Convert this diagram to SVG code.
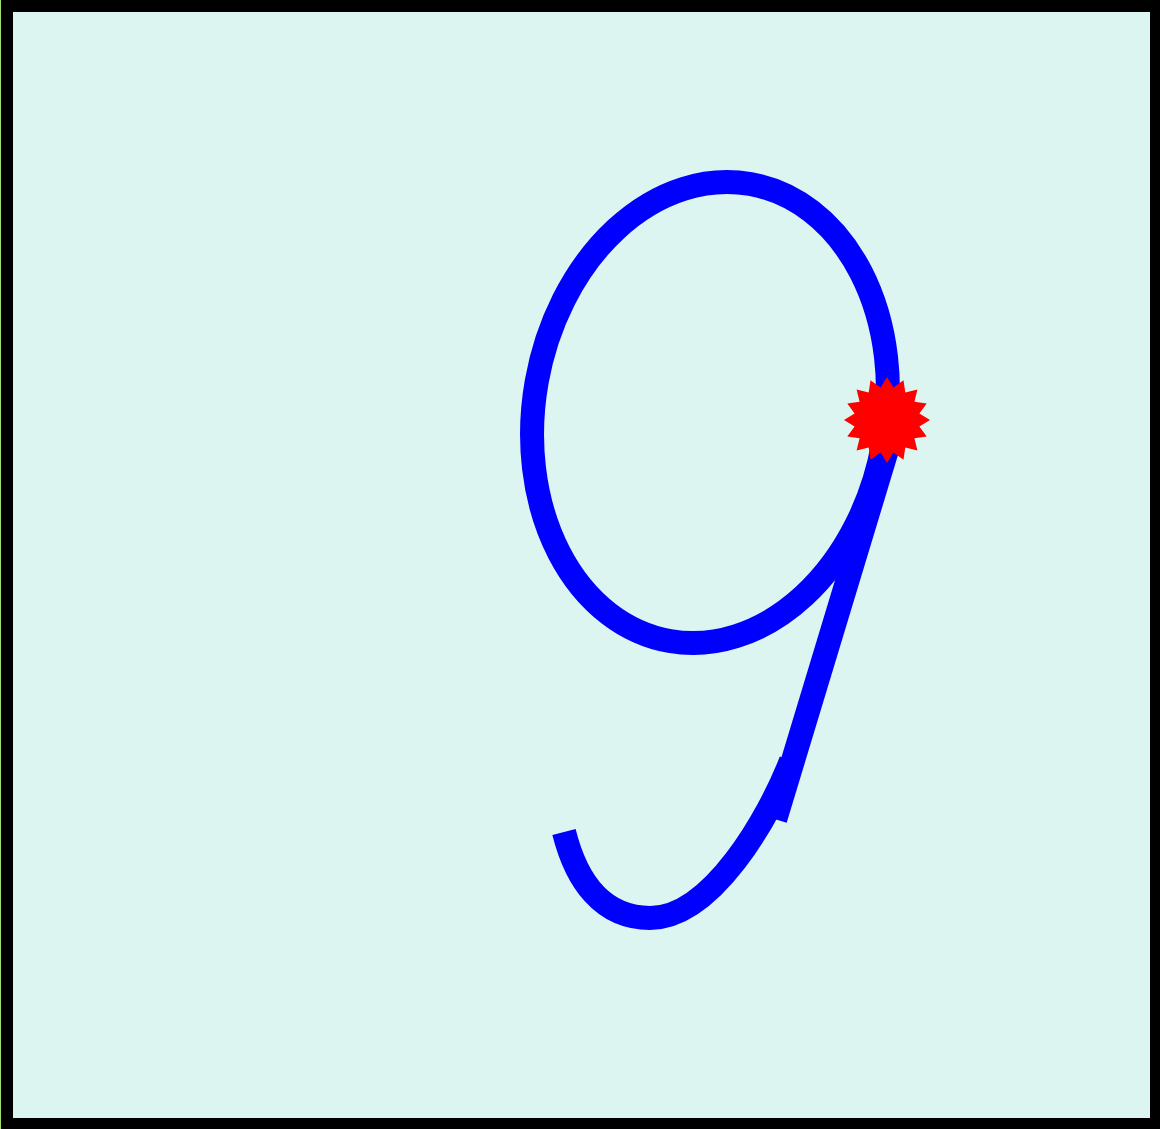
<svg xmlns="http://www.w3.org/2000/svg" width="1160" height="1129" viewBox="0 0 1160 1129">
  <style>
    .stroke { fill: none; stroke: #0000ff; stroke-width: 24; stroke-linecap: butt; }
  </style>
  <rect x="0" y="0" width="1160" height="1129" fill="#000000"/>
  <rect x="7" y="6" width="1149" height="1118" fill="#ddf5f0" stroke="#000000" stroke-width="12"/>
  <rect x="0" y="0" width="1" height="1129" fill="#a0e070"/>
  <g id="nine">
    <ellipse class="stroke" cx="710" cy="412.5" rx="176" ry="232" transform="rotate(10 710 412.5)"/>
    <line class="stroke" x1="893" y1="430" x2="775.2" y2="819.3"/>
    <path class="stroke" d="M564,832 C576,880 602,918 650,918 C712,918 769,817 791,761"/>
  </g>
  <polygon id="star" fill="#ff0000" points="887,377 893.4,387.6 903.5,380.3 905.3,392.6 917.4,389.6 914.4,401.7 926.7,403.5 919.4,413.6 930,420 919.4,426.4 926.7,436.5 914.4,438.3 917.4,450.4 905.3,447.4 903.5,459.7 893.4,452.4 887,463 880.6,452.4 870.5,459.7 868.7,447.4 856.6,450.4 859.6,438.3 847.3,436.5 854.6,426.4 844,420 854.6,413.6 847.3,403.5 859.6,401.7 856.6,389.6 868.7,392.6 870.5,380.3 880.6,387.6"/>
</svg>
